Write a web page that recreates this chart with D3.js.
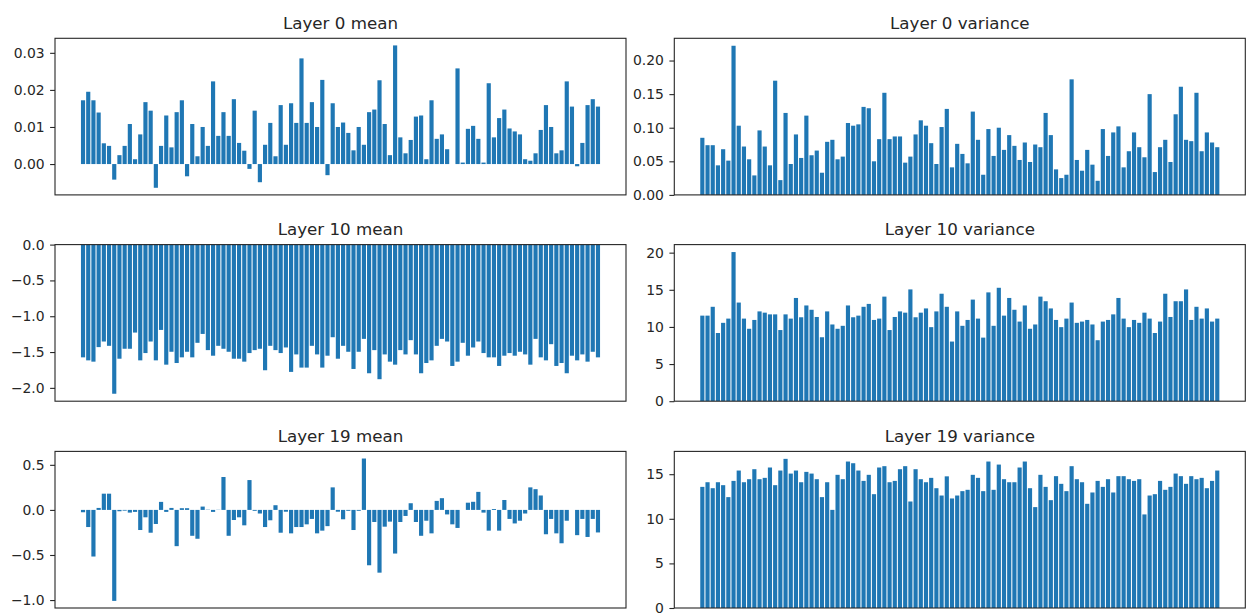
<!DOCTYPE html>
<html>
<head>
<meta charset="utf-8">
<script src="https://cdn.jsdelivr.net/npm/d3@7"></script>
<style>
  html, body { margin: 0; padding: 0; background: #fff; }
  svg { display: block; font-family: "DejaVu Sans", sans-serif; }
</style>
</head>
<body>
<svg id="chart" width="1247" height="614"></svg>
<script>
// Per-channel statistics of hidden activations, 100 channels per layer.
const layer0Mean = [
  0.0172, 0.0195, 0.0172, 0.0139, 0.0056, 0.0049, -0.0042, 0.0024, 0.0049, 0.0108,
  0.0013, 0.0080, 0.0167, 0.0144, -0.0064, 0.0049, 0.0131, 0.0045, 0.0140, 0.0172,
  -0.0033, 0.0108, 0.0021, 0.0100, 0.0049, 0.0223, 0.0076, 0.0140, 0.0076, 0.0175,
  0.0057, 0.0036, -0.0013, 0.0144, -0.0049, 0.0052, 0.0111, 0.0021, 0.0159, 0.0052,
  0.0164, 0.0111, 0.0285, 0.0111, 0.0167, 0.0100, 0.0227, -0.0030, 0.0164, 0.0100,
  0.0112, 0.0084, 0.0037, 0.0100, 0.0052, 0.0140, 0.0147, 0.0226, 0.0108, 0.0024,
  0.0320, 0.0072, 0.0029, 0.0065, 0.0128, 0.0131, 0.0013, 0.0172, 0.0068, 0.0080,
  0.0040, 0.0000, 0.0258, 0.0004, 0.0095, 0.0103, 0.0068, 0.0004, 0.0218, 0.0072,
  0.0124, 0.0147, 0.0096, 0.0088, 0.0080, 0.0013, 0.0009, 0.0029, 0.0092, 0.0159,
  0.0100, 0.0029, 0.0037, 0.0223, 0.0155, -0.0006, 0.0057, 0.0159, 0.0175, 0.0155
];
const layer0Var = [
  0.085, 0.074, 0.074, 0.044, 0.068, 0.051, 0.222, 0.103, 0.072, 0.053,
  0.029, 0.096, 0.072, 0.044, 0.170, 0.022, 0.122, 0.046, 0.090, 0.055,
  0.118, 0.059, 0.066, 0.033, 0.079, 0.082, 0.053, 0.057, 0.107, 0.103,
  0.105, 0.131, 0.129, 0.050, 0.083, 0.152, 0.083, 0.087, 0.087, 0.048,
  0.057, 0.090, 0.111, 0.103, 0.077, 0.046, 0.101, 0.128, 0.041, 0.076,
  0.061, 0.047, 0.124, 0.082, 0.030, 0.098, 0.058, 0.100, 0.067, 0.089,
  0.073, 0.052, 0.078, 0.049, 0.075, 0.071, 0.122, 0.089, 0.038, 0.025,
  0.030, 0.172, 0.052, 0.036, 0.067, 0.045, 0.021, 0.098, 0.058, 0.093,
  0.102, 0.041, 0.065, 0.093, 0.071, 0.056, 0.150, 0.034, 0.071, 0.082,
  0.049, 0.120, 0.161, 0.082, 0.080, 0.152, 0.065, 0.093, 0.078, 0.071
];
const layer10Mean = [
  -1.574, -1.616, -1.634, -1.431, -1.353, -1.413, -2.082, -1.593, -1.454, -1.454,
  -1.228, -1.616, -1.514, -1.353, -1.616, -1.191, -1.676, -1.496, -1.653, -1.574,
  -1.496, -1.574, -1.371, -1.247, -1.473, -1.551, -1.413, -1.454, -1.496, -1.593,
  -1.593, -1.634, -1.514, -1.473, -1.454, -1.754, -1.413, -1.473, -1.514, -1.436,
  -1.777, -1.533, -1.717, -1.717, -1.413, -1.533, -1.717, -1.551, -1.293, -1.593,
  -1.413, -1.496, -1.736, -1.496, -1.316, -1.796, -1.473, -1.879, -1.533, -1.634,
  -1.676, -1.473, -1.533, -1.334, -1.533, -1.796, -1.653, -1.616, -1.413, -1.316,
  -1.353, -1.694, -1.634, -1.371, -1.551, -1.436, -1.353, -1.514, -1.574, -1.574,
  -1.694, -1.551, -1.514, -1.551, -1.496, -1.533, -1.676, -1.316, -1.574, -1.616,
  -1.390, -1.694, -1.653, -1.796, -1.551, -1.616, -1.533, -1.634, -1.496, -1.574
];
const layer10Var = [
  11.52, 11.52, 12.71, 9.18, 10.55, 11.12, 20.08, 13.28, 11.12, 9.75,
  10.94, 12.09, 11.92, 11.69, 11.69, 9.58, 11.69, 11.12, 13.90, 11.30,
  12.89, 12.31, 11.34, 8.61, 12.09, 10.33, 9.75, 10.15, 12.89, 11.30,
  11.52, 12.71, 13.10, 10.94, 11.12, 14.08, 9.58, 11.34, 12.09, 11.92,
  15.05, 11.30, 11.92, 12.49, 9.97, 12.09, 14.47, 12.71, 8.03, 12.09,
  10.15, 10.94, 13.68, 11.12, 8.56, 14.65, 10.15, 15.27, 11.52, 13.90,
  12.31, 10.72, 12.89, 9.75, 10.33, 14.08, 13.46, 12.49, 10.94, 9.97,
  11.12, 13.28, 10.55, 10.72, 10.94, 10.33, 8.21, 10.72, 10.94, 11.69,
  13.90, 11.12, 9.97, 10.94, 10.55, 11.92, 11.12, 9.18, 10.72, 14.47,
  11.34, 13.46, 13.46, 15.05, 10.94, 12.71, 11.12, 12.49, 10.72, 11.12
];
const layer19Mean = [
  -0.026, -0.190, -0.517, 0.022, 0.180, 0.180, -1.009, -0.015, -0.008, -0.030,
  -0.022, -0.223, -0.082, -0.253, -0.156, 0.089, -0.022, 0.022, -0.402, 0.019,
  0.019, -0.287, -0.320, 0.037, 0.003, -0.022, 0.002, 0.365, -0.287, -0.112,
  -0.082, -0.171, 0.331, -0.010, -0.040, -0.190, -0.115, 0.052, -0.253, -0.020,
  -0.260, -0.190, -0.190, -0.160, -0.100, -0.260, -0.230, -0.180, 0.250, -0.020,
  -0.104, -0.010, -0.223, -0.010, 0.570, -0.614, -0.134, -0.696, -0.186, -0.130,
  -0.484, -0.134, -0.067, 0.074, -0.134, -0.287, -0.120, -0.260, 0.100, 0.130,
  -0.050, -0.160, -0.200, 0.000, 0.080, 0.090, 0.200, -0.030, -0.230, 0.010,
  -0.230, 0.110, -0.100, -0.150, -0.120, -0.040, 0.250, 0.230, 0.160, -0.270,
  -0.100, -0.260, -0.370, -0.120, 0.000, -0.280, -0.100, -0.300, -0.100, -0.250
];
const layer19Var = [
  13.58, 14.10, 13.43, 14.10, 13.77, 12.43, 14.25, 15.41, 14.10, 14.44,
  15.56, 14.44, 14.59, 15.75, 13.77, 15.41, 16.72, 15.07, 15.41, 14.10,
  15.26, 15.07, 14.44, 12.43, 14.10, 11.00, 14.93, 14.44, 16.42, 16.23,
  15.41, 14.25, 14.93, 12.76, 15.75, 15.90, 14.10, 14.25, 15.56, 15.90,
  11.94, 15.56, 14.44, 14.10, 14.59, 13.43, 12.61, 14.76, 12.28, 12.61,
  13.10, 13.25, 14.93, 14.59, 13.10, 16.42, 13.25, 16.08, 14.44, 14.10,
  14.10, 15.75, 16.42, 13.43, 11.31, 14.93, 13.58, 12.09, 14.78, 13.92,
  13.10, 15.90, 14.44, 14.10, 11.68, 12.95, 14.25, 13.58, 14.44, 12.95,
  14.78, 14.78, 14.44, 14.25, 14.44, 10.49, 12.61, 12.76, 14.25, 13.25,
  13.58, 15.07, 14.78, 13.92, 14.78, 14.44, 14.59, 13.43, 14.25, 15.41
];

const titles = [
  "Layer 0 mean", "Layer 0 variance",
  "Layer 10 mean", "Layer 10 variance",
  "Layer 19 mean", "Layer 19 variance"
];
const layer0MeanTicks = [0.00, 0.01, 0.02, 0.03];
const layer0VarTicks = [0.00, 0.05, 0.10, 0.15, 0.20];
const layer10MeanTicks = [0.0, -0.5, -1.0, -1.5, -2.0];
const layer10VarTicks = [0, 5, 10, 15, 20];
const layer19MeanTicks = [0.5, 0.0, -0.5, -1.0];
const layer19VarTicks = [0, 5, 10, 15];
const tickDecimals = [2, 2, 1, 0, 1, 0];

const seriesList = [layer0Mean, layer0Var, layer10Mean, layer10Var, layer19Mean, layer19Var];
const tickList = [layer0MeanTicks, layer0VarTicks, layer10MeanTicks, layer10VarTicks, layer19MeanTicks, layer19VarTicks];

// Grid of axes: two columns, three rows.
const colLeft = [55, 674.3];
const axW = 571;
const rowTop = [38.3, 244.6, 451.4];
const axH = 156.6;
const barColor = "#1f77b4";
const textColor = "#262626";

const svg = d3.select("#chart");

// y-limits padded like matplotlib's autoscale: zero is a sticky edge for bars.
function yLimits(values) {
  let lo = Math.min(0, d3.min(values));
  let hi = Math.max(0, d3.max(values));
  const span = hi - lo;
  if (lo < 0) lo -= 0.05 * span;
  if (hi > 0) hi += 0.05 * span;
  return [lo, hi];
}

seriesList.forEach((values, k) => {
  const left = colLeft[k % 2];
  const top = rowTop[Math.floor(k / 2)];
  const n = values.length;
  const xSpan = (n - 1) + 0.8;
  const x = d3.scaleLinear()
    .domain([-0.4 - 0.05 * xSpan, (n - 1) + 0.4 + 0.05 * xSpan])
    .range([left, left + axW]);
  const y = d3.scaleLinear().domain(yLimits(values)).range([top + axH, top]);

  const g = svg.append("g");

  const clipId = "clip" + k;
  g.append("clipPath").attr("id", clipId)
    .append("rect").attr("x", left).attr("y", top).attr("width", axW).attr("height", axH);

  g.append("g").attr("clip-path", `url(#${clipId})`)
    .selectAll("rect")
    .data(values)
    .join("rect")
    .attr("x", (d, i) => x(i - 0.4))
    .attr("width", x(0.8) - x(0))
    .attr("y", d => y(Math.max(0, d)))
    .attr("height", d => Math.abs(y(d) - y(0)))
    .attr("fill", barColor);

  // y axis
  const fmt = d3.format("." + tickDecimals[k] + "f");
  const axis = d3.axisLeft(y)
    .tickValues(tickList[k])
    .tickSize(4.9)
    .tickPadding(5.5)
    .tickFormat(v => fmt(v).replace("-", "\u2212"));
  const ag = g.append("g").attr("transform", `translate(${left},0)`).call(axis);
  ag.select(".domain").remove();
  ag.selectAll(".tick line").attr("stroke", textColor).attr("stroke-width", 1.1);
  ag.selectAll(".tick text")
    .attr("fill", textColor)
    .style("font-size", "13.9px")
    .style("font-family", "'DejaVu Sans', sans-serif");

  // frame
  g.append("rect")
    .attr("x", left).attr("y", top)
    .attr("width", axW).attr("height", axH)
    .attr("fill", "none")
    .attr("stroke", textColor)
    .attr("stroke-width", 1.1);

  // title
  g.append("text")
    .attr("x", left + axW / 2)
    .attr("y", top - 9.5)
    .attr("text-anchor", "middle")
    .attr("fill", textColor)
    .style("font-size", "16.7px")
    .text(titles[k]);
});
</script>
</body>
</html>
